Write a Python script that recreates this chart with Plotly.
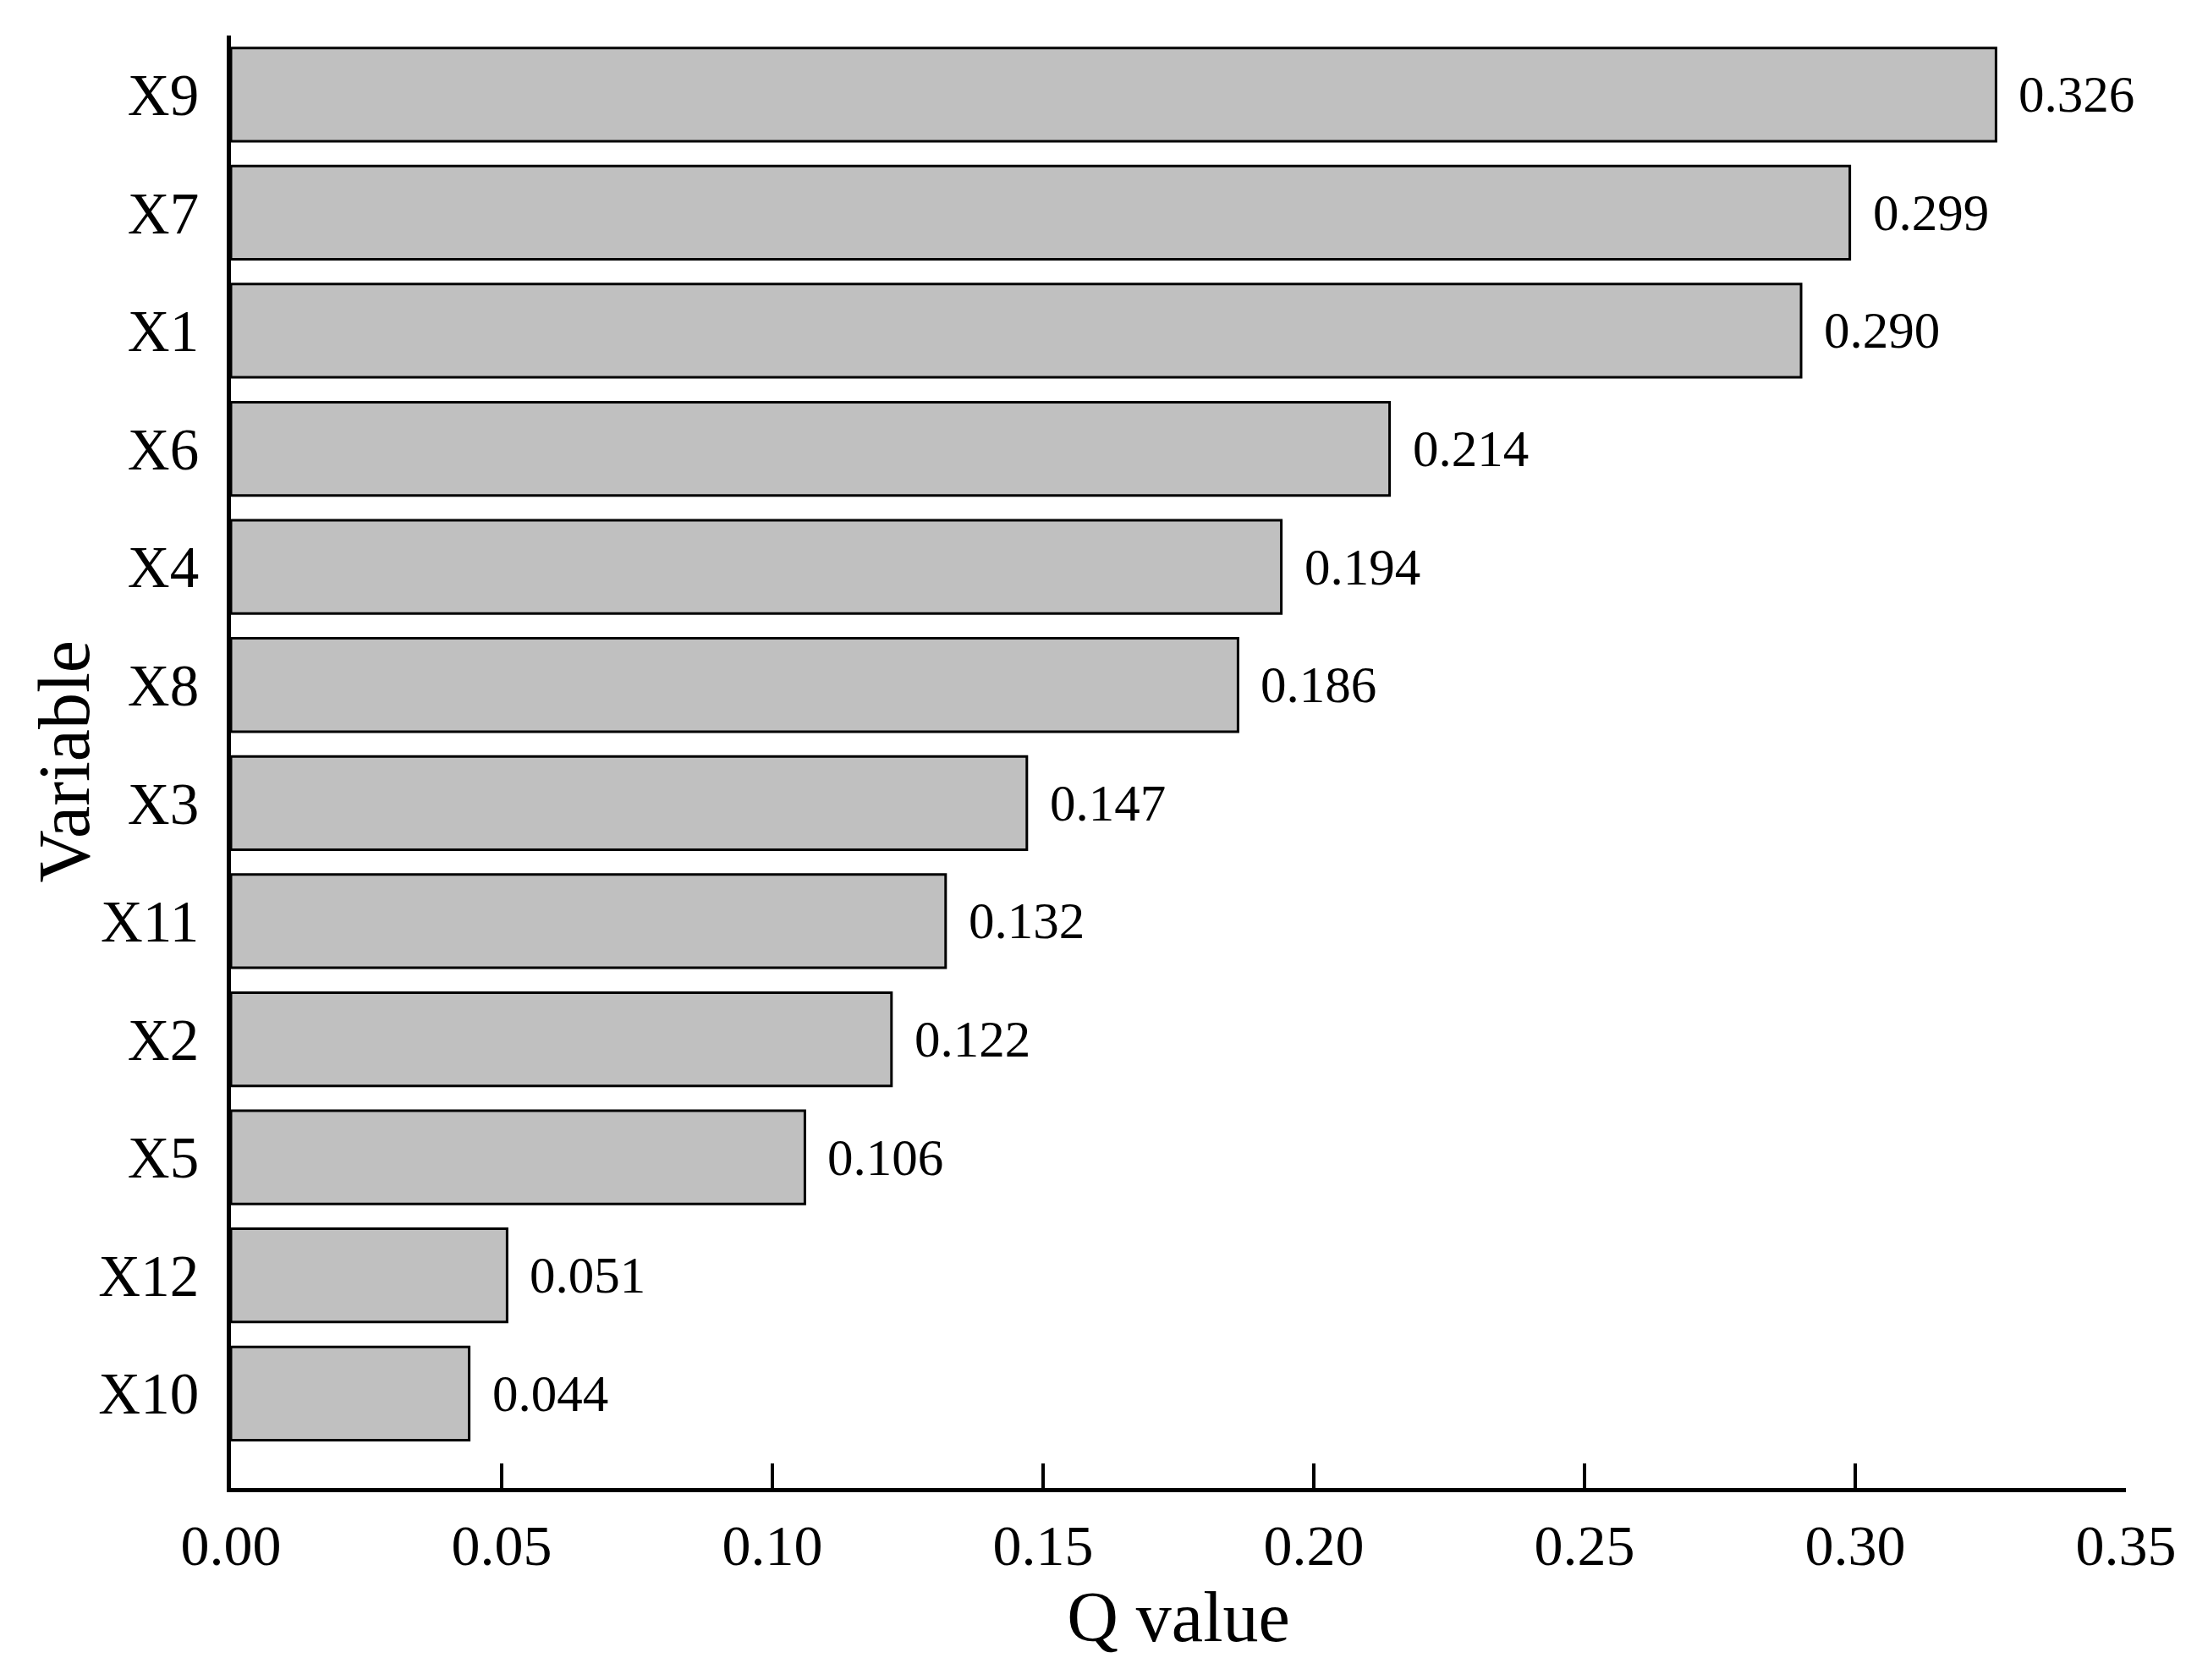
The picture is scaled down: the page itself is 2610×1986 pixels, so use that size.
import plotly.graph_objects as go

categories = ["X9", "X7", "X1", "X6", "X4", "X8", "X3", "X11", "X2", "X5", "X12", "X10"]
q_values = [0.326, 0.299, 0.290, 0.214, 0.194, 0.186, 0.147, 0.132, 0.122, 0.106, 0.051, 0.044]
x_ticks = [0.00, 0.05, 0.10, 0.15, 0.20, 0.25, 0.30, 0.35]

FONT = "Liberation Serif, Times New Roman, serif"

# bottom-to-top order for the category axis
cats_bt = categories[::-1]
vals_bt = q_values[::-1]

fig = go.Figure()
fig.add_trace(go.Bar(
    x=vals_bt,
    y=cats_bt,
    orientation="h",
    width=0.79,
    marker=dict(color="#C0C0C0", line=dict(color="black", width=3)),
    showlegend=False,
    hoverinfo="x+y",
))

for c, v in zip(cats_bt, vals_bt):
    fig.add_annotation(
        x=v, y=c, xref="x", yref="y",
        text=f"{v:.3f}",
        showarrow=False,
        xanchor="left", yanchor="middle",
        xshift=25,
        font=dict(family=FONT, size=61, color="black"),
    )

# y-axis title as a rotated annotation (allows placing it near the figure edge)
fig.add_annotation(
    x=0, y=0.5, xref="paper", yref="paper",
    text="Variable",
    textangle=-90,
    showarrow=False,
    xanchor="center", yanchor="middle",
    xshift=-198,
    font=dict(family=FONT, size=86, color="black"),
)

fig.update_layout(
    width=2594,
    height=1970,
    margin=dict(l=265, r=89, t=34, b=219),
    paper_bgcolor="white",
    plot_bgcolor="white",
    font=dict(family=FONT, color="black"),
    xaxis=dict(
        range=[0, 0.35],
        tickvals=x_ticks,
        ticktext=[f"{t:.2f}" for t in x_ticks],
        ticks="inside",
        ticklen=29,
        tickwidth=4,
        tickcolor="black",
        showline=True,
        linewidth=5,
        linecolor="black",
        showgrid=False,
        zeroline=False,
        tickfont=dict(family=FONT, size=68, color="black"),
        ticklabelstandoff=4,
        title=dict(text="Q value", font=dict(family=FONT, size=84, color="black"), standoff=10),
        automargin=False,
    ),
    yaxis=dict(
        categoryorder="array",
        categoryarray=cats_bt,
        range=[-0.8, 11.5],
        ticks="",
        showline=True,
        linewidth=5,
        linecolor="black",
        showgrid=False,
        zeroline=False,
        tickfont=dict(family=FONT, size=69, color="black"),
        ticklabelstandoff=19,
        automargin=False,
    ),
)

fig.write_html("out.html")
